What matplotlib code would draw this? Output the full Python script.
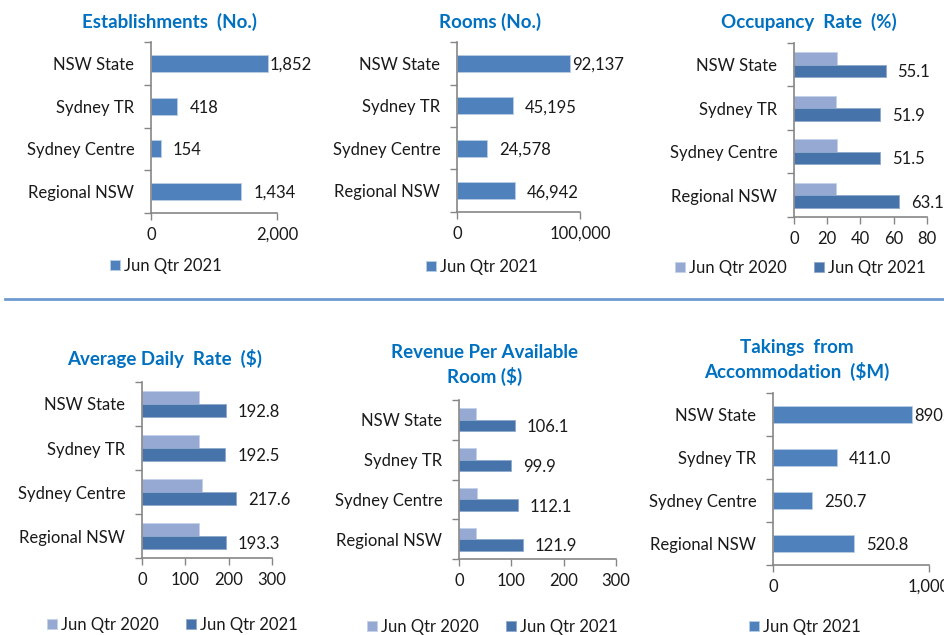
import matplotlib
matplotlib.use('Agg')
import matplotlib.pyplot as plt
from matplotlib.lines import Line2D

W, H = 945, 635

regions = ['NSW State', 'Sydney TR', 'Sydney Centre', 'Regional NSW']

establishments_2021 = [1852, 418, 154, 1434]
rooms_2021 = [92137, 45195, 24578, 46942]
occupancy_2020 = [25.6, 25.5, 25.6, 25.5]
occupancy_2021 = [55.1, 51.9, 51.5, 63.1]
adr_2020 = [130.8, 131.0, 138.5, 131.0]
adr_2021 = [192.8, 192.5, 217.6, 193.3]
revpar_2020 = [32.0, 32.0, 35.0, 32.0]
revpar_2021 = [106.1, 99.9, 112.1, 121.9]
takings_2021 = [890.3, 411.0, 250.7, 520.8]

legend_2020 = 'Jun Qtr 2020'
legend_2021 = 'Jun Qtr 2021'

BLUE_TITLE = '#0070C0'
SINGLE = '#4F81BD'
LIGHT = '#95A9D2'
DARK = '#4673A9'
AXIS = '#868686'
TEXT = '#1a1a1a'
FS = 12

plt.rcParams['font.family'] = ['Lato', 'DejaVu Sans']
plt.rcParams['font.size'] = FS

fig = plt.figure(figsize=(W / 100, H / 100), dpi=100)


def px_axes(left, top, right, bottom):
    return fig.add_axes([left / W, 1 - bottom / H, (right - left) / W, (bottom - top) / H])


def fig_text(x, y, s, **kw):
    fig.text(x / W, 1 - y / H, s, **kw)


def panel(box, title, title_xy, values_2021, values_2020, fmt, xmax, xticks, xticklabels, legend_x, legend_y):
    ax = px_axes(*box)
    ys = list(range(len(regions)))
    if values_2020 is None:
        h = 0.4
        bars = ax.barh(ys, values_2021, height=h, color=SINGLE, edgecolor='#B9CDE5', lw=0.6,
                       label=legend_2021)
        label_y = ys
        handles = [bars]
    else:
        h = 0.29
        b0 = ax.barh([y - h / 2 for y in ys], values_2020, height=h, color=LIGHT, edgecolor='#C5D1E8',
                     lw=0.6, label=legend_2020)
        b1 = ax.barh([y + h / 2 for y in ys], values_2021, height=h, color=DARK, edgecolor='#8FA9CC',
                     lw=0.6, label=legend_2021)
        label_y = [y + h / 2 for y in ys]
        handles = [b0, b1]

    # Excel-style outside-end labels, squeezed in for the longest bars
    for v, y in zip(values_2021, label_y):
        pad = 2 if v >= 0.85 * xmax else 12
        ax.annotate(fmt.format(v), xy=(v, y), xytext=(pad * 0.72, -1), textcoords='offset points',
                    ha='left', va='center', color=TEXT, fontsize=FS, annotation_clip=False)

    ax.set_xlim(0, xmax)
    ax.set_ylim(len(regions) - 0.5, -0.5)
    ax.set_xticks(xticks)
    ax.set_xticklabels(xticklabels)
    ax.set_yticks(ys)
    ax.set_yticklabels(regions)
    ax.set_yticks([y - 0.5 for y in range(len(regions) + 1)], minor=True)
    ax.tick_params(axis='y', which='major', length=0, pad=12, colors=TEXT, labelsize=FS)
    ax.tick_params(axis='y', which='minor', length=5, width=1, color=AXIS)
    ax.tick_params(axis='x', length=5, width=1, color=AXIS, labelcolor=TEXT, labelsize=FS, pad=5)
    for s in ('top', 'right'):
        ax.spines[s].set_visible(False)
    for s in ('left', 'bottom'):
        ax.spines[s].set_color(AXIS)
        ax.spines[s].set_linewidth(1.2)
    ax.set_facecolor('none')

    fig_text(title_xy[0], title_xy[1], title, ha='center', va='center', fontsize=13.5,
             fontweight='bold', color=BLUE_TITLE, linespacing=1.4)

    leg = ax.legend(handles=handles, loc='center left', bbox_to_anchor=(legend_x / W, 1 - legend_y / H),
                    bbox_transform=fig.transFigure, ncol=len(handles), frameon=False, borderpad=0,
                    borderaxespad=0, handlelength=0.6, handleheight=0.6, handletextpad=0.25,
                    columnspacing=1.6, fontsize=FS)
    for t in leg.get_texts():
        t.set_color(TEXT)
    return ax


panel((151, 42, 277, 213), 'Establishments  (No.)', (169, 22), establishments_2021, None, '{:,.0f}',
      2000, [0, 2000], ['0', '2,000'], 110, 266)
panel((457, 42, 580, 212), 'Rooms (No.)', (490, 22), rooms_2021, None, '{:,.0f}',
      100000, [0, 100000], ['0', '100,000'], 426, 267)
panel((794, 43, 927, 217), 'Occupancy  Rate  (%)', (809, 22), occupancy_2021, occupancy_2020, '{:.1f}',
      80, [0, 20, 40, 60, 80], ['0', '20', '40', '60', '80'], 675, 268)
panel((142, 382, 272, 558), 'Average Daily  Rate  ($)', (165, 358), adr_2021, adr_2020, '{:.1f}',
      300, [0, 100, 200, 300], ['0', '100', '200', '300'], 47, 625)
panel((459, 400, 616, 559), 'Revenue Per Available\nRoom ($)', (485, 365), revpar_2021, revpar_2020, '{:.1f}',
      300, [0, 100, 200, 300], ['0', '100', '200', '300'], 367, 627)
panel((773, 393, 929, 565), 'Takings  from\nAccommodation  ($M)', (797, 360), takings_2021, None, '{:.1f}',
      1000, [0, 1000], ['0', '1,000'], 749, 627)

fig.add_artist(Line2D([5 / W, 1], [1 - 299 / H, 1 - 299 / H], color='#6D9BD1', lw=2))

fig.savefig('out.png', dpi=100)
